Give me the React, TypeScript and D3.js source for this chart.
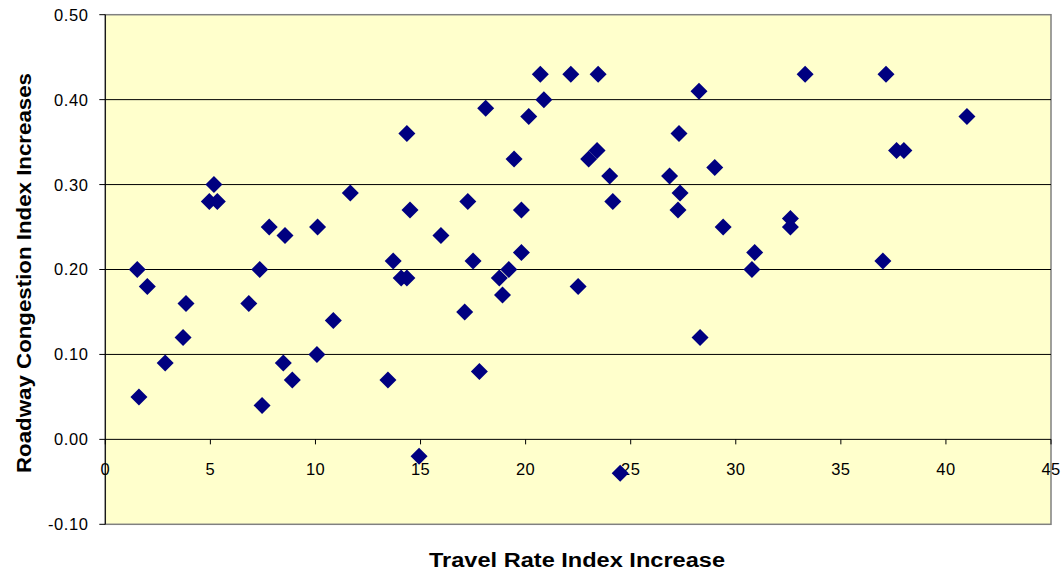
import React from "react";
import * as d3 from "d3";

const travelRate: number[] = [
  1.52, 1.6, 2.0, 2.85, 3.7, 3.84, 4.95, 5.17, 5.33, 6.83,
  7.35, 7.46, 7.8, 8.47, 8.55, 8.9, 10.07, 10.1, 10.85, 11.66,
  13.45, 13.7, 14.08, 14.35, 14.35, 14.5, 14.93, 15.97, 17.1, 17.25,
  17.5, 17.8, 18.1, 18.75, 18.9, 19.2, 19.45, 19.8, 19.8, 20.15,
  20.7, 20.87, 22.15, 22.5, 23.0, 23.4, 23.45, 24.0, 24.15, 24.5,
  26.85, 27.3, 27.35, 27.25, 28.25, 28.3, 29.0, 29.4, 30.77, 30.9,
  32.6, 32.6, 33.3, 37.0, 37.15, 37.65, 38.0, 41.0,
];
const congestion: number[] = [
  0.20, 0.05, 0.18, 0.09, 0.12, 0.16, 0.28, 0.30, 0.28, 0.16,
  0.20, 0.04, 0.25, 0.09, 0.24, 0.07, 0.10, 0.25, 0.14, 0.29,
  0.07, 0.21, 0.19, 0.36, 0.19, 0.27, -0.02, 0.24, 0.15, 0.28,
  0.21, 0.08, 0.39, 0.19, 0.17, 0.20, 0.33, 0.22, 0.27, 0.38,
  0.43, 0.40, 0.43, 0.18, 0.33, 0.34, 0.43, 0.31, 0.28, -0.04,
  0.31, 0.36, 0.29, 0.27, 0.41, 0.12, 0.32, 0.25, 0.20, 0.22,
  0.26, 0.25, 0.43, 0.21, 0.43, 0.34, 0.34, 0.38,
];
const xTicks: number[] = [0, 5, 10, 15, 20, 25, 30, 35, 40, 45];
const yTicks: number[] = [-0.1, 0, 0.1, 0.2, 0.3, 0.4, 0.5];
const xTitle = "Travel Rate Index Increase";
const yTitle = "Roadway Congestion Index Increases";

export default function App() {
  const W = 1061, H = 573;
  const left = 105.3, right = 1051, top = 14.7, bottom = 524.3;
  const x = d3.scaleLinear().domain([0, 45]).range([left, right]);
  const y = d3.scaleLinear().domain([-0.1, 0.5]).range([bottom, top]);
  const h = 8.5;
  const diamond = `M0,${-h}L${h},0L0,${h}L${-h},0Z`;
  const font = "Liberation Sans, Arial, sans-serif";
  const y0 = y(0);
  return (
    <svg width={W} height={H} style={{ position: "absolute", left: 0, top: 0 }} fontFamily={font}>
      <rect x={0} y={0} width={W} height={H} fill="#ffffff" />
      <rect x={left} y={top} width={right - left} height={bottom - top} fill="#FFFFCC" stroke="#808080" strokeWidth={1.5} />
      {yTicks.filter((t) => t > 0.01 && t < 0.49).map((t) => (
        <line key={"g" + t} x1={left} x2={right} y1={y(t)} y2={y(t)} stroke="#000" strokeWidth={1} />
      ))}
      <line x1={left} x2={left} y1={top} y2={bottom} stroke="#000" strokeWidth={1} />
      {yTicks.map((t) => (
        <g key={"y" + t}>
          <line x1={left - 6} x2={left} y1={y(t)} y2={y(t)} stroke="#000" />
          <text x={88.5} y={y(t)} dy="0.36em" textAnchor="end" fontSize={16.5} fill="#000" letterSpacing={0.6}>
            {t.toFixed(2)}
          </text>
        </g>
      ))}
      <line x1={left} x2={right} y1={y0} y2={y0} stroke="#000" strokeWidth={1} />
      {xTicks.map((t) => (
        <g key={"x" + t}>
          <line x1={x(t)} x2={x(t)} y1={y0} y2={y0 + 5} stroke="#000" />
          <text x={x(t)} y={475} textAnchor="middle" fontSize={16.5} fill="#000" letterSpacing={0.4}>
            {t}
          </text>
        </g>
      ))}
      {travelRate.map((v, i) => (
        <path key={"p" + i} d={diamond} transform={`translate(${x(v)},${y(congestion[i])})`} fill="#000080" />
      ))}
      <text x={577} y={567} textAnchor="middle" fontSize={20} fontWeight="bold" fill="#000" textLength={296} lengthAdjust="spacingAndGlyphs">
        {xTitle}
      </text>
      <text transform={`translate(31,273) rotate(-90)`} textAnchor="middle" fontSize={20} fontWeight="bold" fill="#000" textLength={400} lengthAdjust="spacingAndGlyphs">
        {yTitle}
      </text>
    </svg>
  );
}
